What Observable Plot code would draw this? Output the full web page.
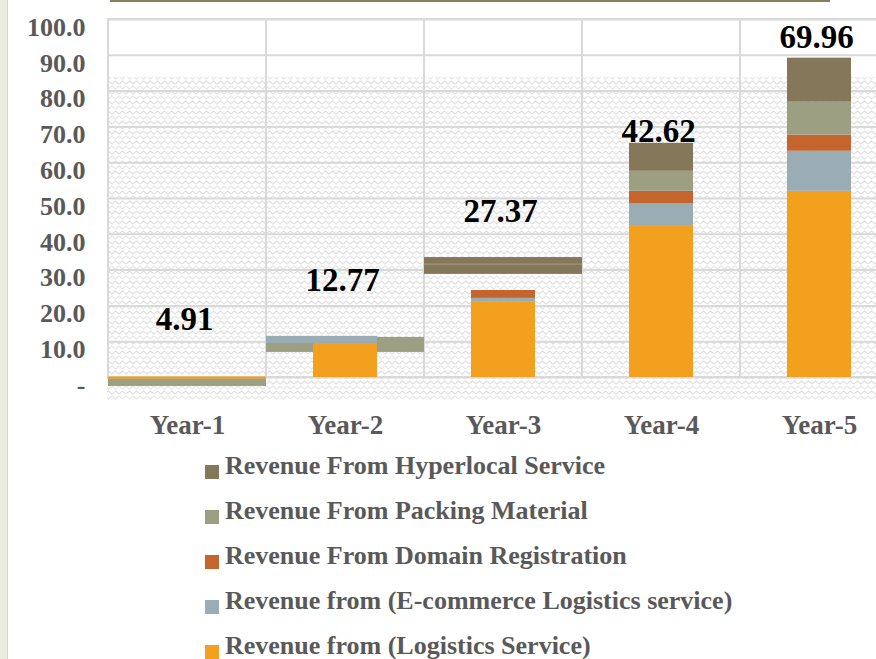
<!DOCTYPE html>
<html><head><meta charset="utf-8">
<script src="https://cdn.jsdelivr.net/npm/d3@7"></script>
<script src="https://cdn.jsdelivr.net/npm/@observablehq/plot@0.6"></script>
<style>
html,body{margin:0;padding:0;background:#fff;overflow:hidden;width:876px;height:659px;}
#wrap{position:relative;width:876px;height:659px;overflow:hidden;font-family:"Liberation Serif","Times New Roman",serif;}
#strip{position:absolute;left:0;top:0;width:7px;height:659px;background:#e9ecdf;border-right:1.5px solid #d4d6cf;z-index:2;}
#topline{position:absolute;left:110px;top:0;width:720px;height:2px;background:#8b7d5b;z-index:2;}
#chart{position:absolute;left:0;top:0;}
#chart svg{display:block;max-width:none;}
#legend{position:absolute;left:205px;top:443px;}
.item{height:45px;display:flex;align-items:center;font-weight:bold;font-size:26px;color:#595959;white-space:nowrap;}
.sw{width:14px;height:14px;margin-top:12px;margin-right:6px;flex:none;}
</style>
</head><body>
<div id="wrap">
  <div id="strip"></div>
  <div id="topline"></div>
  <div id="chart"></div>
  <div id="legend"></div>
</div>
<script>
// ---- data ----
const years = ["Year-1", "Year-2", "Year-3", "Year-4", "Year-5"];
const series = [
  "Revenue From Hyperlocal Service",
  "Revenue From Packing Material",
  "Revenue From Domain Registration",
  "Revenue from (E-commerce Logistics service)",
  "Revenue from (Logistics Service)"
];
const colors = ["#85785a", "#9c9f82", "#c5652e", "#9aacb4", "#f4a01f"];
const totals = [4.91, 12.77, 27.37, 42.62, 69.96];
// where each total label sits (axis units)
const totalLabelAt = [16.2, 27.0, 46.5, 68.7, 95.1];

// stacked segments as drawn in the bars (axis units)
const logistics  = [0, 9.5, 21.0, 42.2, 52.0];
const ecommerce  = [0, 0,   1.1,  6.4, 11.2];
const domain     = [0, 0,   2.2,  3.4,  4.5];
const packing    = [0, 0,   0,    5.6,  9.2];
const hyperlocal = [0, 0,   0,    7.8, 12.3];

// stray segments drawn across the whole category (axis units)
const strayYear   = ["Year-1", "Year-1", "Year-2", "Year-3", "Year-3"];
const straySeries = [1, 4, 1, 0, 1];
const strayFrom   = [-2.5, -0.45, 7.0, 28.8, 31.4];
const strayTo     = [-0.35, 0.15, 11.2, 33.5, 31.7];
// stray segment from category start to bar end
const halfYear = ["Year-2"], halfSeries = [3], halfFrom = [9.5], halfTo = [11.5];

const yTicks = [0, 10, 20, 30, 40, 50, 60, 70, 80, 90, 100];
const textureBand = [{y1: -6.4, y2: 83.8}];

// ---- build tables ----
const stackOrder = [logistics, ecommerce, domain, packing, hyperlocal];
const stackNames = [series[4], series[3], series[2], series[1], series[0]];
const rows = [];
years.forEach((yr, i) => stackOrder.forEach((arr, k) => rows.push({year: yr, series: stackNames[k], value: arr[i]})));
const strays = strayYear.map((yr, i) => ({year: yr, series: series[straySeries[i]], from: strayFrom[i], to: strayTo[i]}));
const halves = halfYear.map((yr, i) => ({year: yr, series: series[halfSeries[i]], from: halfFrom[i], to: halfTo[i]}));
const labels = years.map((yr, i) => ({year: yr, total: totals[i], at: totalLabelAt[i]}));

const font = '"Liberation Serif","Times New Roman",serif';

const chart = Plot.plot({
  width: 900, height: 445,
  marginLeft: 107, marginRight: 2, marginTop: 19, marginBottom: 68,
  style: {fontFamily: font, background: "transparent", overflow: "visible"},
  x: {domain: years, padding: 0, label: null},
  y: {domain: [0, 100], label: null},
  color: {domain: series, range: colors},
  marks: [
    Plot.rect(textureBand, {y1: "y1", y2: "y2", fill: "url(#zz)"}),
    Plot.gridY(yTicks, {stroke: "#d9d9d9", strokeWidth: 2, strokeOpacity: 1}),
    Plot.barY(years, {x: d => d, y1: 0, y2: 100, fill: "none", stroke: "#d9d9d9", strokeWidth: 2, inset: 0}),
    Plot.barY(strays, {x: "year", y1: "from", y2: "to", fill: "series", inset: 0}),
    Plot.barY(halves, {x: "year", y1: "from", y2: "to", fill: "series", insetLeft: 0, insetRight: 47}),
    Plot.barY(rows, {x: "year", y: "value", fill: "series", insetLeft: 47, insetRight: 47}),
    Plot.axisY(yTicks, {tickSize: 0, tickPadding: 22, dy: 8, fontSize: 26, fontWeight: "bold", fill: "#595959",
      tickFormat: d => d === 0 ? "-" : d.toFixed(1), label: null}),
    Plot.axisX({tickSize: 0, tickPadding: 37, fontSize: 27, fontWeight: "bold", fill: "#595959", label: null}),
    Plot.text(labels, {x: "year", y: "at", dx: -3, text: d => d.total.toFixed(2), fontSize: 33, fontWeight: "bold", fill: "#000"})
  ]
});

// texture pattern definition
const ns = "http://www.w3.org/2000/svg";
const defs = document.createElementNS(ns, "defs");
defs.innerHTML = `<pattern id="zz" patternUnits="userSpaceOnUse" width="14" height="10">
  <rect width="14" height="10" fill="#ffffff"/>
  <polyline points="0,4 3.5,1 7,4 10.5,1 14,4" fill="none" stroke="#e0e0e0" stroke-width="1.2"/>
  <polyline points="-3.5,9 0,6 3.5,9 7,6 10.5,9 14,6 17.5,9" fill="none" stroke="#e6e6e6" stroke-width="1.2"/>
</pattern>`;
chart.insertBefore(defs, chart.firstChild);
document.getElementById("chart").appendChild(chart);

// legend
const lg = document.getElementById("legend");
series.forEach((s, i) => {
  const it = document.createElement("div");
  it.className = "item";
  it.innerHTML = `<span class="sw" style="background:${colors[i]}"></span><span>${s}</span>`;
  lg.appendChild(it);
});
</script>
</body></html>
